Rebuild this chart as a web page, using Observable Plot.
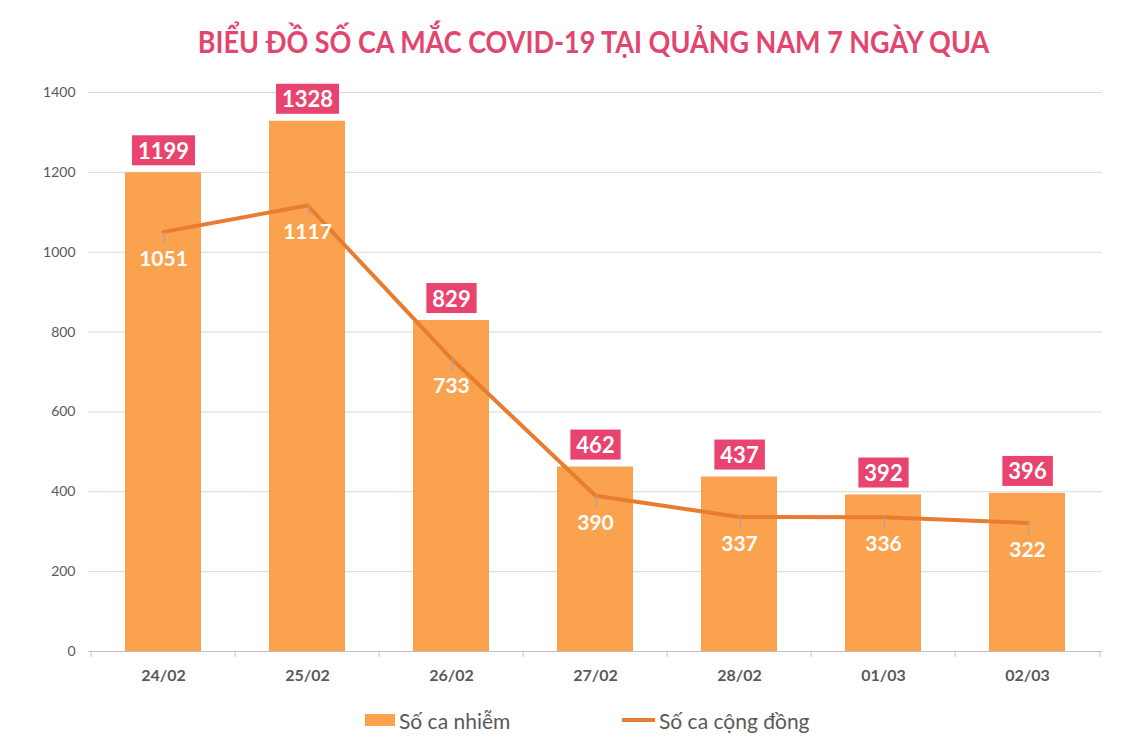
<!DOCTYPE html>
<html>
<head>
<meta charset="utf-8">
<script src="https://cdn.jsdelivr.net/npm/d3@7"></script>
<script src="https://cdn.jsdelivr.net/npm/@observablehq/plot@0.6"></script>
<style>
  html, body { margin: 0; padding: 0; background: #fff; }
  body { width: 1139px; height: 754px; position: relative; overflow: hidden; font-family: Lato, "Open Sans", sans-serif; }
  #title { position: absolute; left: 24px; top: 22px; width: 1139px; text-align: center; color: #e2466f; font-weight: 700; font-size: 31px; white-space: nowrap; transform: scaleX(0.87); transform-origin: 50% 50%; }
  #chart { position: absolute; left: 0; top: 80px; }
  #legend { position: absolute; top: 705px; left: 0; width: 1139px; height: 34px; font-size: 21px; color: #595959; }
  .lg { position: absolute; top: 0; display: flex; align-items: center; height: 30px; }
  .sw-bar { width: 30px; height: 12px; background: #fba24e; margin-right: 4px; }
  .sw-line { width: 33px; height: 4px; background: #e87c30; margin-right: 4px; }
</style>
</head>
<body>
<div id="title">BIỂU ĐỒ SỐ CA MẮC COVID-19 TẠI QUẢNG NAM 7 NGÀY QUA</div>
<div id="chart"></div>
<div id="legend">
  <div class="lg" style="left:365px"><div class="sw-bar"></div><span>Số ca nhiễm</span></div>
  <div class="lg" style="left:622px"><div class="sw-line"></div><span>Số ca cộng đồng</span></div>
</div>
<script>
const dates = ["24/02", "25/02", "26/02", "27/02", "28/02", "01/03", "02/03"];
const infected = [1199, 1328, 829, 462, 437, 392, 396];
const community = [1051, 1117, 733, 390, 337, 336, 322];
const yTicks = [0, 200, 400, 600, 800, 1000, 1200, 1400];

const rows = dates.map((d, i) => ({date: d, infected: infected[i], community: community[i]}));
const lastRow = [rows[rows.length - 1]];

const W = 1139, H = 616;
const mL = 88, mR = 37, mT = 12, mB = 45;
const pInner = 0.47, pOuter = 0.235;
const step = (W - mL - mR) / (dates.length - pInner + 2 * pOuter);

const plot = Plot.plot({
  width: W,
  height: H,
  marginLeft: mL,
  marginRight: mR,
  marginTop: mT,
  marginBottom: mB,
  style: {fontFamily: "Lato, 'Open Sans', sans-serif", background: "transparent"},
  x: {domain: dates, paddingInner: pInner, paddingOuter: pOuter, label: null},
  y: {domain: [0, 1400], label: null},
  marks: [
    Plot.gridY(yTicks.filter(t => t > 0), {stroke: "#d9d9d9", strokeOpacity: 1, strokeWidth: 1}),
    Plot.axisY(yTicks, {tickSize: 0, tickPadding: 13, fontSize: 14, fill: "#595959", label: null, tickFormat: d => String(d)}),
    Plot.barY(rows, {x: "date", y: "infected", fill: "#fba24e"}),
    Plot.ruleY([0], {stroke: "#bfbfbf", strokeWidth: 1}),
    // category boundary ticks on the x baseline
    Plot.ruleX(rows, {x: "date", y1: 0, y2: 0, dx: -step / 2, insetBottom: -6, stroke: "#bfbfbf"}),
    Plot.ruleX(lastRow, {x: "date", y1: 0, y2: 0, dx: step / 2, insetBottom: -6, stroke: "#bfbfbf"}),
    Plot.axisX({tickSize: 0, tickPadding: 18, fontSize: 16, fontWeight: "bold", fill: "#595959", label: null}),
    Plot.line(rows, {x: "date", y: "community", stroke: "#e87c30", strokeWidth: 4, strokeLinejoin: "round"}),
    // leader lines
    Plot.ruleX(rows, {x: "date", y1: "community", y2: "community", insetBottom: -12, dx: 1, stroke: "#a6a6a6", strokeWidth: 1.2}),
    Plot.text(rows, {x: "date", y: "community", text: d => String(d.community), dy: 27, fill: "#fff", fontSize: 21, fontWeight: "bold"}),
    Plot.text(rows, {x: "date", y: "infected", text: d => String(d.infected), dy: -21, fill: "#fff", fontSize: 22, fontWeight: "bold"})
  ]
});

document.getElementById("chart").appendChild(plot);

// pink boxes behind the infected-value labels (the last text mark)
const svg = plot.tagName.toLowerCase() === "svg" ? plot : plot.querySelector("svg");
const textGroups = svg.querySelectorAll('g[aria-label="text"]');
const boxGroup = textGroups[textGroups.length - 1];
Array.from(boxGroup.querySelectorAll("text")).forEach(t => {
  const b = t.getBBox();
  const rect = document.createElementNS("http://www.w3.org/2000/svg", "rect");
  const padX = 6, h = 30;
  const cy = b.y + b.height / 2;
  rect.setAttribute("x", b.x - padX);
  rect.setAttribute("y", cy - h / 2);
  rect.setAttribute("width", b.width + 2 * padX);
  rect.setAttribute("height", h);
  rect.setAttribute("fill", "#e8446f");
  const tr = t.getAttribute("transform");
  if (tr) rect.setAttribute("transform", tr);
  t.parentNode.insertBefore(rect, t);
});
</script>
</body>
</html>
